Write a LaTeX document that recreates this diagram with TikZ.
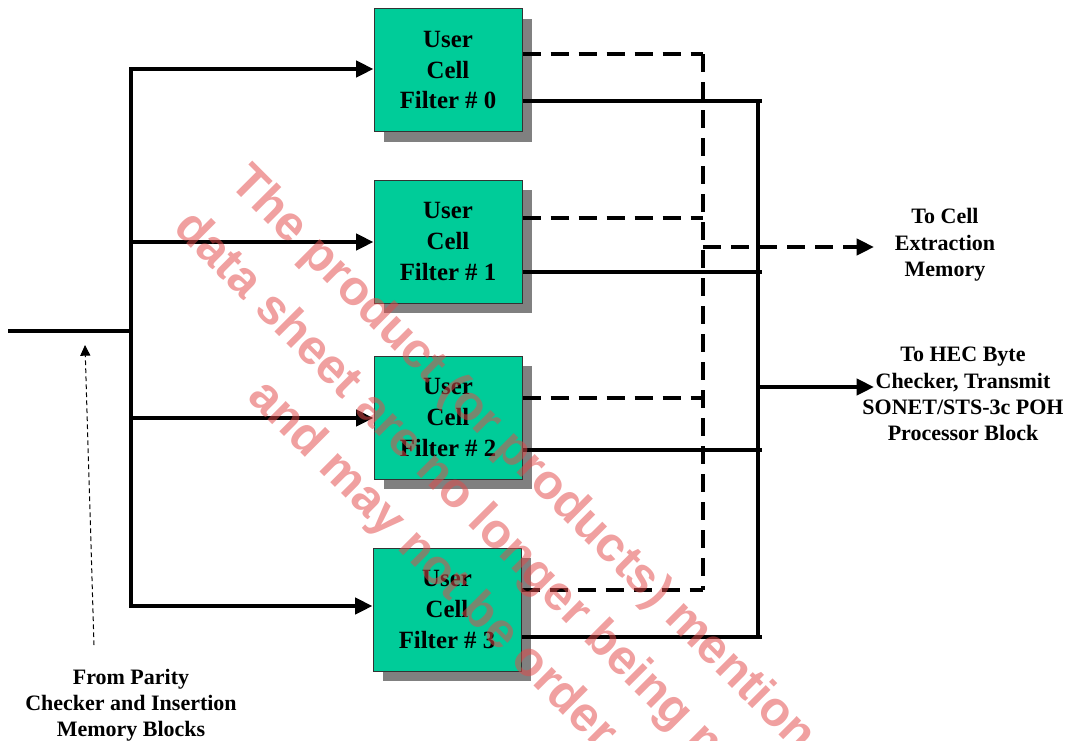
\documentclass[tikz,border=0pt]{standalone}
\usepackage{fontspec}
\setmainfont{Liberation Serif}
\newfontfamily\wmfont{Liberation Sans}
\usetikzlibrary{arrows.meta,shadows}
\definecolor{boxgreen}{RGB}{0,204,153}
\definecolor{wmred}{RGB}{226,75,75}
\begin{document}
\begin{tikzpicture}[x=0.75pt,y=-0.75pt,
  filterbox/.style={draw=black!80, line width=0.75pt, fill=boxgreen,
    minimum width=111pt, minimum height=92.25pt, inner sep=0pt, align=center,
    font=\fontsize{18.6}{22.9}\selectfont\bfseries,
    drop shadow={shadow xshift=7.5pt, shadow yshift=-7.5pt, fill=black!50, opacity=1, draw=none}},
  wire/.style={line width=3pt, line cap=rect},
  swire/.style={line width=3pt},
  dwire/.style={line width=3pt, dash pattern=on 13.5pt off 7.5pt},
  tip/.style={-{Triangle[length=13pt,width=12pt]}},
  lbl/.style={align=center, font=\fontsize{16.5}{19.7}\selectfont\bfseries},
  wm/.style={rotate=-45, anchor=base west, inner sep=0pt, text=wmred, text opacity=0.53,
    font=\wmfont\bfseries\fontsize{36.75}{36.75}\selectfont}]
\useasboundingbox (0,0) rectangle (1079,740);

% filter boxes
\node[filterbox] (f0) at (448,70)   {User\\Cell\\Filter \# 0};
\node[filterbox] (f1) at (448,241.5){User\\Cell\\Filter \# 1};
\node[filterbox] (f2) at (448,417.5){User\\Cell\\Filter \# 2};
\node[filterbox] (f3) at (447,609.5){User\\Cell\\Filter \# 3};

% labels
\node[lbl] (src) at (131,705) {From Parity\\Checker and Insertion\\Memory Blocks};
\node[lbl] (cem) at (945,245) {To Cell\\Extraction\\Memory};
\node[lbl] (hec) at (963,394) {To HEC Byte\\Checker, Transmit\\SONET/STS-3c POH\\Processor Block};

% input side
\coordinate (in) at (10,331);
\coordinate (bj) at (131,331);
\coordinate (b0) at (131,69);
\coordinate (b1) at (131,242);
\coordinate (b2) at (131,418);
\coordinate (b3) at (131,606);
\draw[wire] (in) -- (bj);
\draw[wire] (b0) -- (b3);
\draw[wire,tip] (b0) -- (b0 -| f0.west);
\draw[wire,tip] (b1) -- (b1 -| f1.west);
\draw[wire,tip] (b2) -- (b2 -| f2.west);
\draw[wire,tip] (b3) -- (b3 -| f3.west);

\coordinate (srcp) at (94,645);
\coordinate (inp) at (85,345);
\draw[line width=0.75pt, dash pattern=on 3.5pt off 2.5pt, -{Triangle[length=8pt,width=7.5pt]}] (srcp) -- (inp);

% dashed outputs
\coordinate (d0) at (703,54);
\coordinate (d1) at (703,218);
\coordinate (d2) at (703,398);
\coordinate (d3) at (703,590);
\coordinate (dj) at (703,247);
\coordinate (dout) at (874,247);
\draw[dwire] (d0 -| f0.east) -- (d0);
\draw[dwire] (d1 -| f1.east) -- (d1);
\draw[dwire] (d2 -| f2.east) -- (d2);
\draw[dwire] (d3 -| f3.east) -- (d3);
\draw[dwire] (d0) -- (d3);
\draw[dwire,tip] (dj) -- (dout);

% solid outputs
\coordinate (s0) at (762,101);
\coordinate (s1) at (762,272);
\coordinate (s2) at (762,450);
\coordinate (s3) at (762,637);
\coordinate (st) at (758,101);
\coordinate (sb) at (758,637);
\coordinate (sj) at (758,387);
\coordinate (sout) at (874,387);
\draw[swire] (s0 -| f0.east) -- (s0);
\draw[swire] (s1 -| f1.east) -- (s1);
\draw[swire] (s2 -| f2.east) -- (s2);
\draw[swire] (s3 -| f3.east) -- (s3);
\draw[wire] (st) -- (sb);
\draw[swire,tip] (sj) -- (sout);

% watermark
\begin{scope}
\clip (0,0) rectangle (1079,740);
\node[wm] (wm1) at (228,184) {The product (or products) mention};
\node[wm] (wm2) at (172,229) {data sheet are no longer being m};
\node[wm] (wm3) at (246,398) {and may not be order};
\end{scope}
\end{tikzpicture}
\end{document}
